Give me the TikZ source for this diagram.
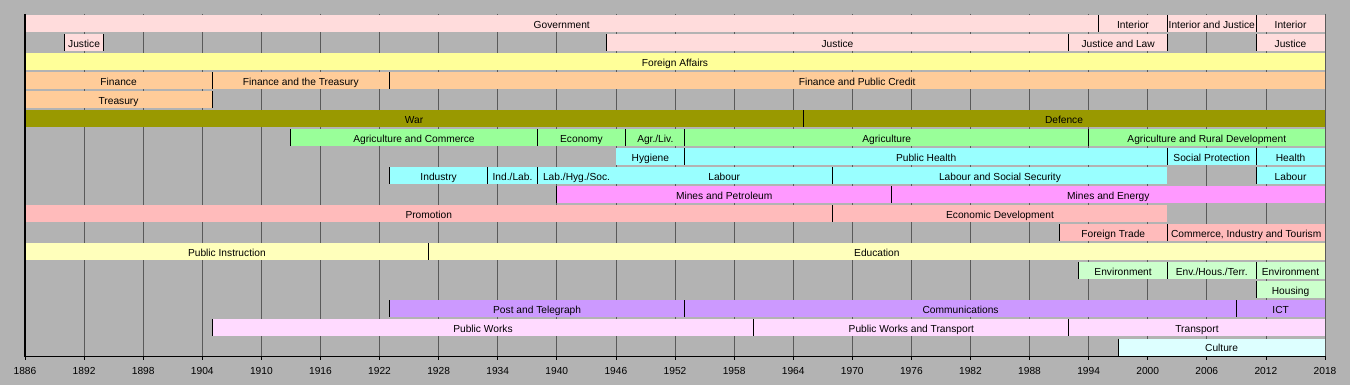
\documentclass[tikz,border=0pt]{standalone}
\usepackage{fontspec}
\setmainfont{Liberation Sans}
\definecolor{bggray}{RGB}{179,179,179}
\definecolor{gridc}{RGB}{90,90,90}
\definecolor{pinkA}{RGB}{255,220,220}
\definecolor{yelA}{RGB}{255,255,153}
\definecolor{peach}{RGB}{255,204,153}
\definecolor{olive}{RGB}{153,153,0}
\definecolor{grnA}{RGB}{153,255,153}
\definecolor{cyanA}{RGB}{153,255,255}
\definecolor{magA}{RGB}{255,153,255}
\definecolor{pinkB}{RGB}{255,187,187}
\definecolor{yelB}{RGB}{255,255,187}
\definecolor{grnB}{RGB}{204,255,204}
\definecolor{purA}{RGB}{204,153,255}
\definecolor{lavA}{RGB}{255,218,255}
\definecolor{cyanB}{RGB}{221,255,255}
\newcommand\tbar[7]{%
 \pgfmathsetmacro\tbxa{25+(#3-1886)*9.84848}%
 \pgfmathsetmacro\tbxb{25+(#4-1886)*9.84848}%
 \pgfmathsetmacro\tbyc{23.5+(#2-1)*19.03}%
 \fill[#5] (\tbxa,\tbyc-8.5) rectangle (\tbxb,\tbyc+8.5);
 \ifnum#7=1 \draw[sepl] (\tbxa,\tbyc-8.5) -- (\tbxa,\tbyc+8.5);\fi
 \node[lbl] (#1) at ({(\tbxa+\tbxb)/2},\tbyc+4.8) {#6};
}
\newcommand\tend[2]{%
 \pgfmathsetmacro\tbxa{25+(#2-1886)*9.84848}%
 \pgfmathsetmacro\tbyc{23.5+(#1-1)*19.03}%
 \draw[sepl] (\tbxa,\tbyc-8.5) -- (\tbxa,\tbyc+8.5);
}
\begin{document}
\begin{tikzpicture}[x=1pt,y=-1pt,
  lbl/.style={inner sep=0pt,anchor=base,font=\fontsize{10.2}{12}\selectfont,text=black},
  sepl/.style={draw=black,line width=0.9pt},
  gridl/.style={draw=gridc,line width=0.8pt}]
\useasboundingbox (0,0) rectangle (1350,385);
\fill[bggray] (0,0) rectangle (1350,385);
% grid
\foreach \k in {1,...,22} \draw[gridl] ({25+\k*6*9.84848},14) -- ({25+\k*6*9.84848},356);
% row 1
\tbar{gov}{1}{1886}{1995}{pinkA}{Government}{0}
\tbar{inta}{1}{1995}{2002}{pinkA}{Interior}{1}
\tbar{intj}{1}{2002}{2011}{pinkA}{Interior and Justice}{1}
\tbar{intb}{1}{2011}{2018}{pinkA}{Interior}{1}
% row 2
\tbar{jusa}{2}{1890}{1894}{pinkA}{Justice}{1}
\tend{2}{1894}
\tbar{jusb}{2}{1945}{1992}{pinkA}{Justice}{1}
\tbar{jusl}{2}{1992}{2002}{pinkA}{Justice and Law}{1}
\tend{2}{2002}
\tbar{jusc}{2}{2011}{2018}{pinkA}{Justice}{1}
% row 3
\tbar{fa}{3}{1886}{2018}{yelA}{Foreign Affairs}{0}
% row 4
\tbar{fin}{4}{1886}{1905}{peach}{Finance}{0}
\tbar{fint}{4}{1905}{1923}{peach}{Finance and the Treasury}{1}
\tbar{finp}{4}{1923}{2018}{peach}{Finance and Public Credit}{1}
% row 5
\tbar{trs}{5}{1886}{1905}{peach}{Treasury}{0}
\tend{5}{1905}
% row 6
\tbar{war}{6}{1886}{1965}{olive}{War}{0}
\tbar{def}{6}{1965}{2018}{olive}{Defence}{1}
% row 7
\tbar{agc}{7}{1913}{1938}{grnA}{Agriculture and Commerce}{1}
\tbar{eco}{7}{1938}{1947}{grnA}{Economy}{1}
\tbar{agl}{7}{1947}{1953}{grnA}{Agr./Liv.}{1}
\tbar{agr}{7}{1953}{1994}{grnA}{Agriculture}{1}
\tbar{ard}{7}{1994}{2018}{grnA}{Agriculture and Rural Development}{1}
% row 8
\tbar{hyg}{8}{1946}{1953}{cyanA}{Hygiene}{0}
\tbar{ph}{8}{1953}{2002}{cyanA}{Public Health}{1}
\tbar{sp}{8}{2002}{2011}{cyanA}{Social Protection}{1}
\tbar{hea}{8}{2011}{2018}{cyanA}{Health}{1}
% row 9
\tbar{ind}{9}{1923}{1933}{cyanA}{Industry}{1}
\tbar{indl}{9}{1933}{1938}{cyanA}{Ind./Lab.}{1}
\tbar{lhs}{9}{1938}{1946}{cyanA}{Lab./Hyg./Soc.}{1}
\tbar{laba}{9}{1946}{1968}{cyanA}{Labour}{0}
\tbar{lss}{9}{1968}{2002}{cyanA}{Labour and Social Security}{1}
\tbar{labb}{9}{2011}{2018}{cyanA}{Labour}{1}
% row 10
\tbar{mp}{10}{1940}{1974}{magA}{Mines and Petroleum}{1}
\tbar{me}{10}{1974}{2018}{magA}{Mines and Energy}{1}
% row 11
\tbar{pro}{11}{1886}{1968}{pinkB}{Promotion}{0}
\tbar{ed}{11}{1968}{2002}{pinkB}{Economic Development}{1}
% row 12
\tbar{ft}{12}{1991}{2002}{pinkB}{Foreign Trade}{1}
\tbar{cit}{12}{2002}{2018}{pinkB}{Commerce, Industry and Tourism}{1}
% row 13
\tbar{pi}{13}{1886}{1927}{yelB}{Public Instruction}{0}
\tbar{edu}{13}{1927}{2018}{yelB}{Education}{1}
% row 14
\tbar{enva}{14}{1993}{2002}{grnB}{Environment}{1}
\tbar{eht}{14}{2002}{2011}{grnB}{Env./Hous./Terr.}{1}
\tbar{envb}{14}{2011}{2018}{grnB}{Environment}{1}
% row 15
\tbar{hou}{15}{2011}{2018}{grnB}{Housing}{1}
% row 16
\tbar{pt}{16}{1923}{1953}{purA}{Post and Telegraph}{1}
\tbar{com}{16}{1953}{2009}{purA}{Communications}{1}
\tbar{ict}{16}{2009}{2018}{purA}{ICT}{1}
% row 17
\tbar{pw}{17}{1905}{1960}{lavA}{Public Works}{1}
\tbar{pwt}{17}{1960}{1992}{lavA}{Public Works and Transport}{1}
\tbar{tra}{17}{1992}{2018}{lavA}{Transport}{1}
% row 18
\tbar{cul}{18}{1997}{2018}{cyanB}{Culture}{1}
% right edge line
\draw[gridl] (1325,14) -- (1325,356);
% axes
\draw[line width=2pt] (25,14) -- (25,357);
\draw[line width=1pt] (24,356) -- (1326,356);
\foreach \k [evaluate=\k as \yr using {int(1886+6*\k)}] in {0,...,22} {
  \draw[line width=0.8pt] ({25+\k*6*9.84848},356) -- ({25+\k*6*9.84848},360);
  \node[lbl] (y\k) at ({25+\k*6*9.84848},374) {\yr};
}
\end{tikzpicture}
\end{document}
